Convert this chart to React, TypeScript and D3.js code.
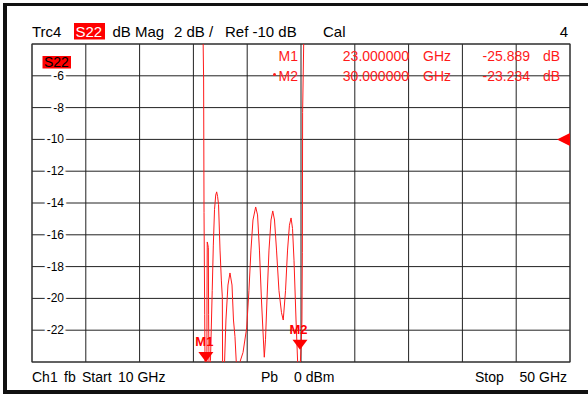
import React from "react";
import * as d3 from "d3";

// trace data (GHz / dB), values outside -24..-4 are clipped
const freqGHz = [
  10, 13, 16, 19, 21, 22.5, 22.72, 22.76, 22.79, 22.84, 22.87, 22.95, 23.0, 23.01,
  23.03, 23.07, 23.11, 23.13, 23.17, 23.27, 23.4, 23.48, 23.57, 23.66, 23.73, 23.8,
  23.87, 23.98, 24.08, 24.15, 24.17, 24.22, 24.31, 24.42, 24.57, 24.72, 24.87, 24.98,
  25.09, 25.2, 25.3, 25.46, 25.69, 25.96, 26.13, 26.28, 26.43, 26.63, 26.77, 26.91,
  27.06, 27.17, 27.27, 27.36, 27.47, 27.62, 27.77, 27.9, 28.03, 28.18, 28.36, 28.55,
  28.68, 28.85, 29.0, 29.14, 29.26, 29.37, 29.48, 29.63, 29.75, 29.85, 29.93, 30.0,
  30.07, 30.1, 30.12, 30.2, 30.26, 31, 34, 38, 42, 46, 50,
];
const s22dB = [
  -1.0, -0.8, -0.9, -1.2, -1.7, -2.6, -3.6, -6.2, -14.6, -21.0, -25.0, -25.9, -25.889, -20.0,
  -16.45, -16.6, -16.8, -21.0, -25.2, -23.9, -19.5, -16.7, -14.4, -13.5, -13.3, -13.6,
  -14.1, -16.96, -18.9, -19.9, -24.0, -24.8, -24.2, -21.36, -19.16, -18.4, -19.16, -21.36,
  -22.4, -24.2, -24.8, -24.0, -23.4, -21.86, -19.5, -16.96, -15.07, -14.25, -14.75, -16.96,
  -20.1, -22.0, -23.7, -22.6, -20.1, -16.96, -15.07, -14.5, -15.07, -16.96, -19.5, -20.9,
  -21.36, -19.5, -16.96, -15.4, -14.94, -15.6, -17.6, -21.36, -24.0, -24.6, -24.3, -23.234,
  -21.36, -17.1, -8.3, -4.0, -3.0, -2.2, -1.5, -1.1, -1.0, -1.2, -1.4,
];

const markerNames = ["M1", "M2"];
const markerFreqs = [23.0, 30.0];
const markerValues = [-25.889, -23.234];

const yTicks = [-6, -8, -10, -12, -14, -16, -18, -20, -22];
const refLevel = -10;

const W = 588;
const H = 394;
const left = 32;
const right = 570;
const top = 44;
const bottom = 362;
const red = "#ff1a1a";
const font = "'Liberation Sans', Arial, sans-serif";

const App = () => {
  const x = d3.scaleLinear().domain([10, 50]).range([left, right]);
  const y = d3.scaleLinear().domain([-24, -4]).range([bottom, top]);

  const pts = freqGHz.map((f, i) => [f, s22dB[i]] as [number, number]);
  const line = d3
    .line<[number, number]>()
    .x((d) => x(d[0]))
    .y((d) => y(d[1]));

  const vLines = d3.range(10, 50.01, 4);
  const hLines = d3.range(-24, -3.99, 2);

  return (
    <svg
      width={W}
      height={H}
      style={{ position: "absolute", left: 0, top: 0, background: "#fff" }}
      fontFamily={font}
    >
      <defs>
        <clipPath id="plot">
          <rect x={left} y={top} width={right - left} height={bottom - top} />
        </clipPath>
      </defs>

      {/* frame */}
      <rect x={3} y={3} width={W - 3} height={3} fill="#111" />
      <rect x={3} y={3} width={4} height={H - 3} fill="#111" />
      <rect x={3} y={390} width={W - 3} height={4} fill="#111" />

      {/* grid */}
      {vLines.map((v) => (
        <line key={"v" + v} x1={x(v)} x2={x(v)} y1={top} y2={bottom} stroke="#222" strokeWidth={1} />
      ))}
      {hLines.map((v) => (
        <line key={"h" + v} x1={left} x2={right} y1={y(v)} y2={y(v)} stroke="#222" strokeWidth={1} />
      ))}
      <rect x={left} y={top} width={right - left} height={bottom - top} fill="none" stroke="#333" />

      {/* y labels */}
      {yTicks.map((t) => (
        <text
          key={"t" + t}
          x={64}
          y={y(t) + 4}
          textAnchor="end"
          fontSize={12}
          fill="#000"
          stroke="#fff"
          strokeWidth={5}
          paintOrder="stroke"
        >
          {t}
        </text>
      ))}

      {/* header */}
      <g fontSize={15} fill="#000">
        <text x={32} y={36.5}>Trc4</text>
        <rect x={74} y={23} width={31} height={16.5} fill="#ff0000" />
        <text x={75.5} y={36.5} fill="#fff">S22</text>
        <text x={112.5} y={36.5}>dB Mag</text>
        <text x={174} y={36.5}>2 dB /</text>
        <text x={225} y={36.5}>Ref -10 dB</text>
        <text x={323} y={36.5}>Cal</text>
        <text x={568} y={36.5} textAnchor="end">4</text>
      </g>

      {/* trace label in plot */}
      <rect x={42.5} y={56} width={28.5} height={12.5} fill="#ff0000" />
      <text x={44} y={67} fontSize={14} fill="#000">S22</text>

      {/* trace */}
      <path d={line(pts) ?? ""} fill="none" stroke={red} strokeWidth={1} clipPath="url(#plot)" />

      {/* marker table */}
      <g fontSize={14} fill={red}>
        {markerNames.map((m, i) => (
          <g key={m}>
            {i === 1 && <circle cx={274.5} cy={74.5} r={1.5} fill={red} />}
            <text x={298} y={60.5 + i * 20} textAnchor="end">{m}</text>
            <text x={409} y={60.5 + i * 20} textAnchor="end">{markerFreqs[i].toFixed(6)}</text>
            <text x={423} y={60.5 + i * 20}>GHz</text>
            <text x={530} y={60.5 + i * 20} textAnchor="end">{markerValues[i].toFixed(3)}</text>
            <text x={543} y={60.5 + i * 20}>dB</text>
          </g>
        ))}
      </g>

      {/* markers */}
      {markerNames.map((m, i) => {
        const mx = x(markerFreqs[i]) - 1;
        const my = Math.min(y(markerValues[i]), bottom);
        return (
          <g key={"mk" + m}>
            <path d={`M${mx - 7.5},${my - 10}L${mx + 7.5},${my - 10}L${mx},${my}Z`} fill="#ff0000" />
            <text x={mx - 1.5} y={my - 16} textAnchor="middle" fontSize={13} fontWeight="bold" fill="#ff0000">
              {m}
            </text>
          </g>
        );
      })}

      {/* reference level arrow */}
      <path
        d={`M${right},${y(refLevel) - 6.5}L${right},${y(refLevel) + 6.5}L${right - 13},${y(refLevel)}Z`}
        fill="#ff0000"
      />

      {/* footer */}
      <g fontSize={14} fill="#000">
        <text x={32} y={382}>Ch1</text>
        <text x={64} y={382}>fb</text>
        <text x={82} y={382}>Start</text>
        <text x={118} y={382}>10 GHz</text>
        <text x={261} y={382}>Pb</text>
        <text x={294} y={382}>0 dBm</text>
        <text x={475} y={382}>Stop</text>
        <text x={567} y={382} textAnchor="end">50 GHz</text>
      </g>
    </svg>
  );
};

export default App;
